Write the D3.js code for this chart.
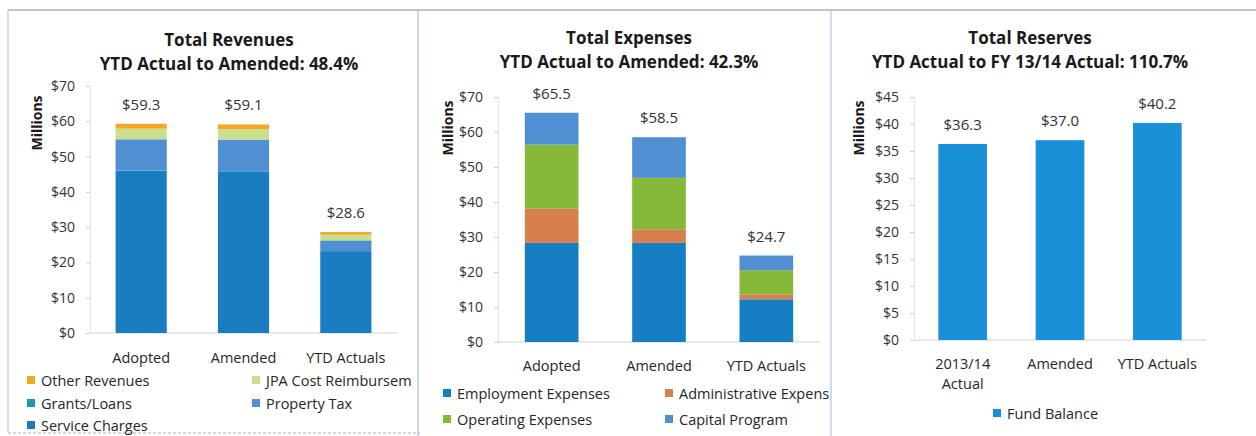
<!DOCTYPE html>
<html><head><meta charset="utf-8">
<script src="https://cdn.jsdelivr.net/npm/d3@7/dist/d3.min.js"></script>
<style>
body{margin:0;background:#fff;}
svg{display:block;font-family:"Open Sans","Noto Sans",sans-serif;}
</style></head>
<body><svg id="c" width="1256" height="436"></svg>
<script>
// ---- Data ----
const revCategories = ["Adopted","Amended","YTD Actuals"];
const revSeries = ["Service Charges","Grants/Loans","Property Tax","JPA Cost Reimbursem","Other Revenues"];
const revServiceCharges = [46.0, 45.8, 23.2];
const revGrantsLoans    = [0.1, 0.1, 0.05];
const revPropertyTax    = [8.8, 8.9, 3.0];
const revJPA            = [3.0, 3.0, 1.6];
const revOther          = [1.4, 1.3, 0.75];
const revTotals         = ["$59.3","$59.1","$28.6"];
const revTicks          = [0,10,20,30,40,50,60,70];

const expCategories = ["Adopted","Amended","YTD Actuals"];
const expSeries = ["Employment Expenses","Administrative Expens","Operating Expenses","Capital Program"];
const expEmployment = [28.3, 28.3, 12.2];
const expAdmin      = [9.8, 3.9, 1.4];
const expOperating  = [18.3, 14.7, 6.9];
const expCapital    = [9.1, 11.6, 4.2];
const expTotals     = ["$65.5","$58.5","$24.7"];
const expTicks      = [0,10,20,30,40,50,60,70];

const resCategories = [["2013/14","Actual"],["Amended"],["YTD Actuals"]];
const resFundBalance = [36.3, 37.0, 40.2];
const resTotals      = ["$36.3","$37.0","$40.2"];
const resTicks       = [0,5,10,15,20,25,30,35,40,45];

const svg = d3.select("#c");
const defs = svg.append("defs");
[[8,0,410],[418,0,413],[831,0,425]].forEach((c,i)=>{
  defs.append("clipPath").attr("id","clip"+i).append("rect").attr("x",c[0]).attr("y",0).attr("width",c[2]).attr("height",436);
});

// frame lines
svg.append("line").attr("x1",8).attr("x2",1256).attr("y1",10).attr("y2",10).attr("stroke","#8c8c8c").attr("stroke-width",1.2);
svg.append("line").attr("x1",8).attr("x2",8).attr("y1",10).attr("y2",432).attr("stroke","#9fc3e0");
svg.append("line").attr("x1",418).attr("x2",418).attr("y1",10).attr("y2",436).attr("stroke","#8fb4d4");
svg.append("line").attr("x1",831).attr("x2",831).attr("y1",10).attr("y2",436).attr("stroke","#b7d6ee").attr("stroke-width",1.5);
svg.append("line").attr("x1",8).attr("x2",420).attr("y1",433).attr("y2",433).attr("stroke","#b0b0b0").attr("stroke-dasharray","3,2");

function panel(cfg){
  const g = svg.append("g").attr("clip-path",`url(#clip${cfg.idx})`);
  g.append("text").attr("x",cfg.cx).attr("y",cfg.titleY).attr("text-anchor","middle").attr("dominant-baseline","central")
    .attr("font-weight","bold").attr("font-size",17).attr("fill","#1a1a1a").text(cfg.title);
  g.append("text").attr("x",cfg.cx).attr("y",cfg.titleY+24).attr("text-anchor","middle").attr("dominant-baseline","central")
    .attr("font-weight","bold").attr("font-size",17).attr("fill","#1a1a1a").text(cfg.sub);
  const y = d3.scaleLinear().domain([0,cfg.max]).range([cfg.y0,cfg.yTop]);
  const x = d3.scaleBand().domain(d3.range(cfg.n)).range([cfg.x0,cfg.x1]).paddingInner(0.5).paddingOuter(0.25);
  // y axis
  const ya = d3.axisLeft(y).tickValues(cfg.ticks).tickSize(4).tickFormat(d=>"$"+d);
  const yg = g.append("g").attr("transform",`translate(${cfg.x0},0)`).call(ya);
  yg.select(".domain").attr("stroke","#e6e6e6");
  yg.selectAll(".tick line").attr("stroke","#cfcfcf");
  yg.selectAll(".tick text").attr("font-size",14).attr("fill","#333").attr("font-family","Open Sans, sans-serif").attr("dx",-8);
  // baseline
  g.append("line").attr("x1",cfg.x0).attr("x2",cfg.x1).attr("y1",y(0)).attr("y2",y(0)).attr("stroke","#d4d4d4");
  // Millions
  g.append("text").attr("transform",`translate(${cfg.mx},${cfg.my}) rotate(-90)`).attr("text-anchor","middle")
    .attr("dominant-baseline","central")
    .attr("font-weight","bold").attr("font-size",14).attr("fill","#1a1a1a").text("Millions");
  // stacks
  const stacked = d3.stack().keys(d3.range(cfg.series.length)).value((d,k)=>cfg.series[k][d])(d3.range(cfg.n));
  stacked.forEach((layer,k)=>{
    g.selectAll(null).data(layer).enter().append("rect")
      .attr("x",(d,i)=>x(i)).attr("width",x.bandwidth())
      .attr("y",d=>y(d[1])).attr("height",d=>Math.max(0,y(d[0])-y(d[1])))
      .attr("fill",cfg.colors[k]);
  });
  // totals
  const tops = d3.range(cfg.n).map(i=>d3.sum(cfg.series,s=>s[i]));
  g.selectAll(null).data(cfg.totals).enter().append("text")
    .attr("x",(d,i)=>x(i)+x.bandwidth()/2).attr("y",(d,i)=>y(tops[i])-20)
    .attr("dominant-baseline","central")
    .attr("text-anchor","middle").attr("font-size",15).attr("fill","#333").text(d=>d);
  // x labels
  cfg.cats.forEach((c,i)=>{
    const lines = Array.isArray(c)?c:[c];
    lines.forEach((l,j)=>{
      g.append("text").attr("x",x(i)+x.bandwidth()/2).attr("y",y(0)+cfg.xlOff+j*20)
       .attr("dominant-baseline","central")
       .attr("text-anchor","middle").attr("font-size",14.5).attr("fill","#262626").text(l);
    });
  });
  // legend
  cfg.legend.forEach(it=>{
    g.append("rect").attr("x",it.x).attr("y",it.y-4).attr("width",8).attr("height",8).attr("fill",it.color);
    g.append("text").attr("x",it.x+14).attr("y",it.y).attr("dominant-baseline","central")
      .attr("font-size",14.5).attr("fill","#262626").text(it.label);
  });
}

const revColors = ["#1a7dc2","#1b9aaa","#4f8fd2","#c9df8e","#f5a623"];
const expColors = ["#167fc4","#d8804c","#86b83a","#4f8fd2"];

panel({idx:0,cx:229,titleY:39,title:"Total Revenues",sub:"YTD Actual to Amended: 48.4%",
  max:70,y0:333,yTop:86,x0:90,x1:397,n:3,ticks:revTicks,mx:36,my:123,xlOff:24,
  series:[revServiceCharges,revGrantsLoans,revPropertyTax,revJPA,revOther],colors:revColors,
  totals:revTotals,cats:revCategories,
  legend:[
    {x:27,y:380,color:revColors[4],label:"Other Revenues"},
    {x:252,y:380,color:revColors[3],label:revSeries[3]},
    {x:27,y:403,color:revColors[1],label:"Grants/Loans"},
    {x:252,y:403,color:revColors[2],label:"Property Tax"},
    {x:27,y:425,color:revColors[0],label:"Service Charges"}]});

panel({idx:1,cx:629,titleY:37,title:"Total Expenses",sub:"YTD Actual to Amended: 42.3%",
  max:70,y0:342,yTop:97,x0:498,x1:820,n:3,ticks:expTicks,mx:447,my:128,xlOff:23,
  series:[expEmployment,expAdmin,expOperating,expCapital],colors:expColors,
  totals:expTotals,cats:expCategories,
  legend:[
    {x:443,y:393,color:expColors[0],label:expSeries[0]},
    {x:665,y:393,color:expColors[1],label:expSeries[1]},
    {x:443,y:419,color:expColors[2],label:expSeries[2]},
    {x:665,y:419,color:expColors[3],label:expSeries[3]}]});

panel({idx:2,cx:1030,titleY:37,title:"Total Reserves",sub:"YTD Actual to FY 13/14 Actual: 110.7%",
  max:45,y0:340,yTop:97,x0:914,x1:1206,n:3,ticks:resTicks,mx:858,my:128,xlOff:23,
  series:[resFundBalance],colors:["#1a90d8"],
  totals:resTotals,cats:resCategories,
  legend:[{x:993,y:413,color:"#1a90d8",label:"Fund Balance"}]});
</script></body></html>
